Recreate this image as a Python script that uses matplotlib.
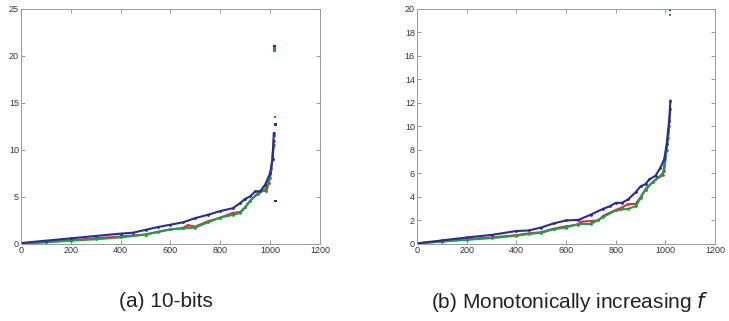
import numpy as np
import matplotlib
matplotlib.use('Agg')
import matplotlib.pyplot as plt

plt.rcParams['font.family'] = ['Liberation Sans', 'DejaVu Sans']

# (a) 10-bits
xa_blue = [0, 100, 200, 300, 400, 450, 500, 550, 600, 650, 700, 750, 800, 850, 880, 900, 920, 940, 960, 980, 1000, 1010, 1015]
ya_blue = [0.1, 0.35, 0.6, 0.85, 1.1, 1.2, 1.5, 1.8, 2.05, 2.3, 2.75, 3.1, 3.5, 3.8, 4.35, 4.8, 5.05, 5.6, 5.6, 6.3, 7.5, 9.0, 11.8]
xa_red = [0, 100, 200, 300, 400, 500, 550, 600, 650, 670, 700, 750, 800, 850, 880, 900, 920, 950, 970, 985, 995, 1005, 1015]
ya_red = [0.05, 0.2, 0.4, 0.6, 0.8, 1.0, 1.3, 1.55, 1.7, 2.0, 1.85, 2.4, 2.8, 3.3, 3.4, 3.9, 4.6, 5.4, 5.7, 5.6, 6.5, 8.0, 11.0]
xa_green = [0, 100, 200, 300, 400, 500, 600, 650, 700, 750, 800, 850, 880, 900, 920, 950, 980, 1000, 1010, 1015]
ya_green = [0.05, 0.18, 0.35, 0.5, 0.7, 1.0, 1.55, 1.65, 1.75, 2.3, 2.8, 3.1, 3.3, 3.9, 4.6, 5.3, 5.8, 7.0, 9.0, 10.5]
xa_out = [1018, 1018, 1018, 1020, 1022, 1021, 1019]
ya_out = [21.0, 20.8, 20.6, 13.5, 4.6, 12.7, 11.5]
ca_out = ['#2a2a9a', '#e0302a', '#1e9e4a', '#e0302a', '#2a2a9a', '#2a2a9a', '#1e9e4a']

# (b) Monotonically increasing f
xb_blue = [0, 100, 200, 300, 400, 450, 500, 550, 600, 650, 700, 750, 775, 800, 825, 850, 880, 900, 920, 935, 960, 980, 995, 1005, 1015, 1020]
yb_blue = [0.05, 0.3, 0.55, 0.77, 1.1, 1.15, 1.4, 1.75, 2.0, 2.05, 2.5, 3.0, 3.2, 3.5, 3.5, 3.8, 4.4, 4.9, 5.1, 5.5, 5.8, 6.5, 7.2, 8.5, 10.5, 12.2]
xb_red = [0, 100, 200, 300, 400, 450, 500, 550, 600, 650, 660, 700, 730, 750, 800, 825, 850, 880, 900, 920, 950, 990, 1000, 1010, 1020]
yb_red = [0.05, 0.22, 0.4, 0.55, 0.75, 0.9, 1.0, 1.3, 1.5, 1.65, 1.9, 1.95, 2.0, 2.4, 2.9, 3.1, 3.4, 3.4, 4.0, 4.6, 5.3, 5.9, 7.5, 9.0, 11.5]
xb_green = [0, 100, 200, 300, 400, 450, 500, 550, 600, 650, 700, 750, 800, 850, 880, 900, 920, 950, 980, 995, 1005, 1015]
yb_green = [0.05, 0.2, 0.35, 0.5, 0.7, 0.85, 0.95, 1.25, 1.4, 1.7, 1.7, 2.3, 2.85, 3.0, 3.2, 3.9, 4.7, 5.3, 5.8, 6.2, 8.0, 10.0]
xb_out = [1018, 1018]
yb_out = [19.9, 19.5]
cb_out = ['#2a2a9a', '#1e9e4a']

BLUE, RED, GREEN = '#2a2a9a', '#e0302a', '#1e9e4a'

fig = plt.figure(figsize=(7.29, 3.21), dpi=100)
ax1 = fig.add_axes([0.0288, 0.240, 0.410, 0.732])
ax2 = fig.add_axes([0.572, 0.240, 0.409, 0.732])

def draw(ax, xr, yr, xg, yg, xb, yb, xo, yo, co, ymax, ystep):
    ax.plot(xr, yr, color=RED, lw=1.5, marker='.', ms=2)
    ax.plot(xg, yg, color=GREEN, lw=1.5, marker='.', ms=2)
    ax.plot(xb, yb, color=BLUE, lw=1.5, marker='.', ms=2)
    ax.scatter(xo, yo, c=co, s=3, marker='s', linewidths=0)
    ax.set_xlim(0, 1200)
    ax.set_ylim(0, ymax)
    ax.set_xticks(np.arange(0, 1201, 200))
    ax.set_yticks(np.arange(0, ymax + 0.1, ystep))
    ax.tick_params(direction='in', top=True, right=True, length=3, width=0.6,
                   labelsize=6.5, colors='#888888', labelcolor='#333333', pad=1.5)
    for s in ax.spines.values():
        s.set_color('#999999')
        s.set_linewidth(0.7)

draw(ax1, xa_red, ya_red, xa_green, ya_green, xa_blue, ya_blue, xa_out, ya_out, ca_out, 25, 5)
draw(ax2, xb_red, yb_red, xb_green, yb_green, xb_blue, yb_blue, xb_out, yb_out, cb_out, 20, 2)

fig.text(0.227, 0.06, '(a) 10-bits', ha='center', va='center', fontsize=15, color='#222222')
fig.text(0.782, 0.06, '(b) Monotonically increasing $f$', ha='center', va='center', fontsize=15, color='#222222')

fig.savefig('out.png', dpi=100)
